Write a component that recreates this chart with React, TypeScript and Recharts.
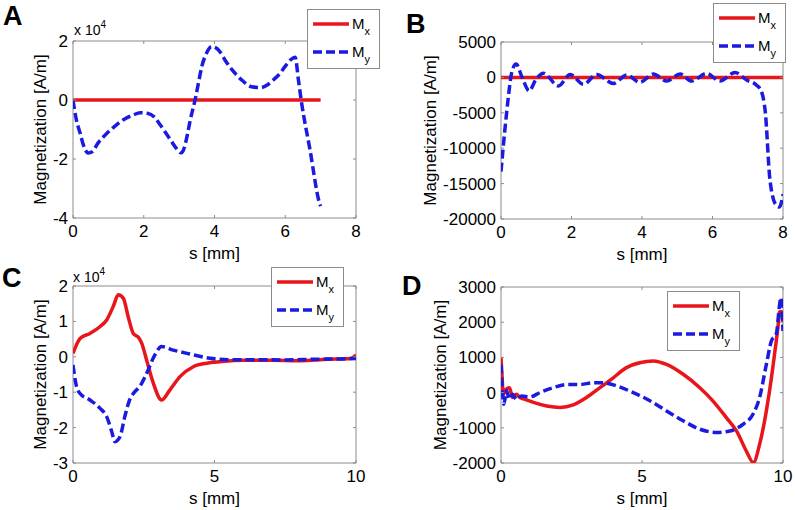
import React from "react";
import { LineChart, Line, XAxis, YAxis, Legend, ReferenceArea } from "recharts";

const RED = "#e8161b";
const BLUE = "#1a1ae0";
const AXIS = "#8c8c8c";
const FONT = "Arial, 'Liberation Sans', sans-serif";

// A: s [mm] and magnetization [A/m]
const sMxA = [0, 7];
const mxA = [0, 0];
const sMyA = [0, 0.1, 0.2, 0.3, 0.43, 0.55, 0.7, 0.9, 1.17, 1.45, 1.7, 1.9, 2.1, 2.3, 2.47, 2.76, 2.95, 3.05, 3.12, 3.2, 3.32, 3.45, 3.55, 3.64, 3.78, 3.92, 4.05, 4.15, 4.3, 4.5, 4.75, 5.05, 5.3, 5.5, 5.66, 5.85, 5.99, 6.15, 6.28, 6.37, 6.45, 6.7, 6.97, 7.0];
const myA = [0, -7000, -11200, -15500, -18000, -17500, -14700, -12000, -9000, -6500, -5100, -4300, -4500, -5800, -8500, -13600, -16800, -17900, -17000, -13600, -6500, 0, 6000, 11300, 16000, 18100, 17600, 16400, 13500, 10200, 7000, 4500, 4200, 5200, 6800, 9000, 11300, 13600, 14500, 7000, 0, -16900, -35000, -36000];

// B
const sMxB = [0, 8];
const mxB = [0, 0];
const sMyB = [0, 0.11, 0.21, 0.3, 0.43, 0.59, 0.8, 0.98, 1.2, 1.63, 1.96, 2.34, 2.71, 3.19, 3.57, 3.94, 4.32, 4.7, 5.08, 5.41, 5.83, 6.21, 6.64, 6.97, 7.25, 7.38, 7.5, 7.63, 7.8, 7.9, 8.0];
const myB = [-13300, -7400, -2700, 600, 1900, 100, -1900, -400, 600, -1200, 420, -990, 400, -850, 330, -700, 470, -520, 470, -520, 560, -520, 700, -380, -1100, -1900, -5000, -14500, -18000, -18300, -16500];

// C
const sMxC = [0, 0.25, 0.6, 0.95, 1.19, 1.42, 1.6, 1.78, 1.95, 2.13, 2.31, 2.43, 2.6, 2.84, 3.13, 3.42, 3.78, 4.25, 4.73, 5.2, 6, 7, 8, 9, 9.8, 10];
const mxC = [1000, 5200, 6600, 8500, 10400, 14200, 17500, 16500, 11300, 6600, 5500, 3800, -900, -7500, -12200, -9400, -5600, -2800, -1800, -1400, -1000, -1000, -1100, -700, -500, 500];
const sMyC = [0, 0.1, 0.24, 0.6, 0.95, 1.19, 1.37, 1.48, 1.66, 1.83, 2.0, 2.18, 2.36, 2.6, 2.89, 3.13, 3.54, 4.13, 4.84, 5.5, 6.5, 7.5, 8.5, 9.5, 10];
const myC = [-2300, -7500, -10300, -12200, -14500, -16900, -21200, -24000, -22600, -16900, -12200, -9900, -8400, -4700, 500, 2900, 1900, 800, -400, -800, -800, -900, -700, -600, -500];

// D
const sMxD = [0, 0.04, 0.08, 0.18, 0.3, 0.41, 0.55, 0.67, 0.85, 1.15, 1.62, 2.09, 2.56, 3.03, 3.51, 3.98, 4.45, 4.92, 5.4, 5.87, 6.46, 7.05, 7.52, 7.99, 8.35, 8.7, 8.95, 9.17, 9.41, 9.59, 9.7, 9.82, 9.88, 9.95, 10];
const mxD = [1000, 430, -50, 95, 140, -140, -50, -140, -190, -280, -380, -420, -350, -140, 140, 420, 710, 850, 900, 800, 520, 140, -240, -710, -1090, -1660, -1990, -1470, -520, 420, 1090, 1850, 2300, 2300, 2000];
const sMyD = [0, 0.05, 0.1, 0.2, 0.3, 0.41, 0.55, 0.73, 1.03, 1.38, 1.85, 2.33, 2.8, 3.27, 3.62, 4.1, 4.69, 5.28, 5.87, 6.46, 7.05, 7.64, 8.11, 8.58, 8.94, 9.17, 9.41, 9.59, 9.76, 9.88, 9.92, 10];
const myD = [800, 50, -330, 50, -190, -50, -190, -100, -120, 0, 140, 230, 230, 280, 280, 190, 0, -230, -520, -800, -1040, -1130, -1090, -900, -610, -140, 800, 1470, 1660, 2500, 2700, 1750];

const xTicks8 = [0, 2, 4, 6, 8];
const xTicks10 = [0, 5, 10];
const yTicksA = [-40000, -20000, 0, 20000];
const yTicksB = [-20000, -15000, -10000, -5000, 0, 5000];
const yTicksC = [-30000, -20000, -10000, 0, 10000, 20000];
const yTicksD = [-2000, -1000, 0, 1000, 2000, 3000];

const W = 397;
const H = 255;
const TICK_FS = 17;

const pts = (s: number[], v: number[]) => s.map((x, i) => ({ s: x, v: v[i] }));

interface Rect { l: number; r: number; t: number; b: number }

interface PanelProps {
  left: number;
  top: number;
  plot: Rect;
  xMax: number;
  xTicks: number[];
  yDomain: [number, number];
  yTicks: number[];
  yFmt: (v: number) => string;
  mx: { s: number; v: number }[];
  my: { s: number; v: number }[];
  legendAt: { x: number; y: number };
}

function LegendBox() {
  return (
    <svg width={73} height={60} style={{ display: "block", fontFamily: FONT }}>
      <rect x={0.5} y={0.5} width={72} height={59} fill="#fff" stroke={AXIS} />
      <line x1={6} x2={42} y1={15} y2={15} stroke={RED} strokeWidth={3.5} />
      <text x={45} y={20} fontSize={15}>
        M<tspan fontSize={11} dy={6}>x</tspan>
      </text>
      <line x1={6} x2={42} y1={43} y2={43} stroke={BLUE} strokeWidth={3.5} strokeDasharray="9 4" />
      <text x={45} y={48} fontSize={15}>
        M<tspan fontSize={11} dy={6}>y</tspan>
      </text>
    </svg>
  );
}

function Panel({ left, top, plot, xMax, xTicks, yDomain, yTicks, yFmt, mx, my, legendAt }: PanelProps) {
  const XTick = (p: any) => (
    <g>
      <line x1={p.x} x2={p.x} y1={plot.b} y2={plot.b - 3} stroke={AXIS} />
      <line x1={p.x} x2={p.x} y1={plot.t} y2={plot.t + 3} stroke={AXIS} />
      <text x={p.x} y={plot.b + 7} dy="0.71em" textAnchor="middle" fontSize={TICK_FS} fontFamily={FONT} fill="#000">
        {p.payload.value}
      </text>
    </g>
  );
  const YTick = (p: any) => (
    <g>
      <line x1={plot.l} x2={plot.l + 3} y1={p.y} y2={p.y} stroke={AXIS} />
      <line x1={plot.r} x2={plot.r - 3} y1={p.y} y2={p.y} stroke={AXIS} />
      <text x={plot.l - 5} y={p.y} dy="0.355em" textAnchor="end" fontSize={TICK_FS} fontFamily={FONT} fill="#000">
        {yFmt(p.payload.value)}
      </text>
    </g>
  );
  return (
    <div style={{ position: "absolute", left, top, width: W, height: H }}>
      <LineChart width={W} height={H} margin={{ top: plot.t, right: W - plot.r, left: 0, bottom: 0 }}>
        <XAxis
          type="number"
          dataKey="s"
          domain={[0, xMax]}
          ticks={xTicks}
          interval={0}
          height={H - plot.b}
          axisLine={false}
          tickLine={false}
          tick={XTick}
          allowDataOverflow
        />
        <YAxis
          type="number"
          dataKey="v"
          domain={yDomain}
          ticks={yTicks}
          interval={0}
          width={plot.l}
          axisLine={false}
          tickLine={false}
          tick={YTick}
          allowDataOverflow
        />
        <ReferenceArea x1={0} x2={xMax} y1={yDomain[0]} y2={yDomain[1]} fill="none" stroke={AXIS} strokeWidth={1} />
        <Line data={mx} dataKey="v" type="monotone" stroke={RED} strokeWidth={3.5} dot={false} isAnimationActive={false} />
        <Line
          data={my}
          dataKey="v"
          type="monotone"
          stroke={BLUE}
          strokeWidth={3.5}
          strokeDasharray="9 4"
          dot={false}
          isAnimationActive={false}
        />
        <Legend
          layout="vertical"
          align="center"
          verticalAlign="middle"
          wrapperStyle={{ left: legendAt.x, top: legendAt.y, width: 73, height: 60 }}
          content={() => <LegendBox />}
        />
      </LineChart>
    </div>
  );
}

const fmt4 = (v: number) => String(v / 10000);
const fmt1 = (v: number) => String(v);

export default function App() {
  const title = { fontFamily: FONT, fontSize: 17, fill: "#000" } as const;
  const letter = { fontFamily: FONT, fontSize: 27, fontWeight: 700, fill: "#000" } as const;
  const yTitles = [
    [40, 129.5],
    [430, 130.5],
    [40, 374.5],
    [440, 375],
  ];
  const xTitles = [
    [214.5, 259],
    [642, 260],
    [214.5, 504],
    [642, 504],
  ];
  return (
    <div style={{ position: "fixed", left: 0, top: 0, width: 795, height: 510, background: "#fff" }}>
      <Panel
        left={0}
        top={0}
        plot={{ l: 73, r: 356, t: 41, b: 218 }}
        xMax={8}
        xTicks={xTicks8}
        yDomain={[-40000, 20000]}
        yTicks={yTicksA}
        yFmt={fmt4}
        mx={pts(sMxA, mxA)}
        my={pts(sMyA, myA)}
        legendAt={{ x: 307, y: 9 }}
      />
      <Panel
        left={398}
        top={0}
        plot={{ l: 103, r: 385, t: 42, b: 219 }}
        xMax={8}
        xTicks={xTicks8}
        yDomain={[-20000, 5000]}
        yTicks={yTicksB}
        yFmt={fmt1}
        mx={pts(sMxB, mxB)}
        my={pts(sMyB, myB)}
        legendAt={{ x: 315, y: 3 }}
      />
      <Panel
        left={0}
        top={255}
        plot={{ l: 73, r: 356, t: 31, b: 208 }}
        xMax={10}
        xTicks={xTicks10}
        yDomain={[-30000, 20000]}
        yTicks={yTicksC}
        yFmt={fmt4}
        mx={pts(sMxC, mxC)}
        my={pts(sMyC, myC)}
        legendAt={{ x: 271, y: 12 }}
      />
      <Panel
        left={398}
        top={255}
        plot={{ l: 103, r: 385, t: 32, b: 208 }}
        xMax={10}
        xTicks={xTicks10}
        yDomain={[-2000, 3000]}
        yTicks={yTicksD}
        yFmt={fmt1}
        mx={pts(sMxD, mxD)}
        my={pts(sMyD, myD)}
        legendAt={{ x: 269, y: 36 }}
      />
      <svg width={795} height={510} style={{ position: "absolute", left: 0, top: 0, pointerEvents: "none" }}>
        <text x={3} y={25} {...letter}>A</text>
        <text x={406} y={33} {...letter}>B</text>
        <text x={2} y={287} {...letter}>C</text>
        <text x={402} y={295} {...letter}>D</text>
        <text x={74} y={35} fontFamily={FONT} fontSize={14}>
          x 10<tspan fontSize={10} dy={-7}>4</tspan>
        </text>
        <text x={73} y={282} fontFamily={FONT} fontSize={14}>
          x 10<tspan fontSize={10} dy={-7}>4</tspan>
        </text>
        {yTitles.map(([cx, cy], i) => (
          <text
            key={"y" + i}
            x={cx}
            y={cy}
            textAnchor="middle"
            dominantBaseline="central"
            transform={`rotate(-90 ${cx} ${cy})`}
            {...title}
          >
            Magnetization [A/m]
          </text>
        ))}
        {xTitles.map(([cx, cy], i) => (
          <text key={"x" + i} x={cx} y={cy} textAnchor="middle" {...title}>
            s [mm]
          </text>
        ))}
      </svg>
    </div>
  );
}
